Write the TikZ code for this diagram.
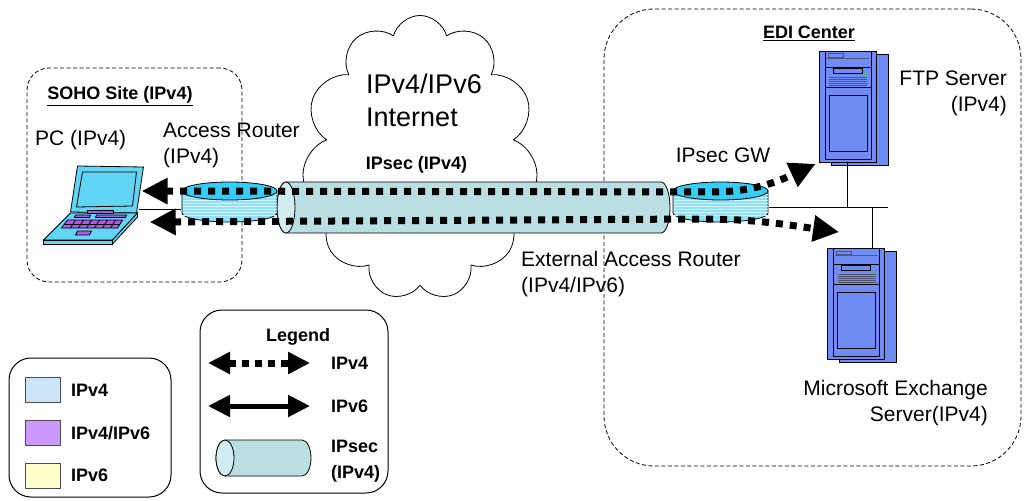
\documentclass[tikz,border=0pt]{standalone}
\usepackage{fontspec}
\setmainfont{Liberation Sans}
\usepackage{tikz}
\usetikzlibrary{arrows.meta,positioning,calc,shapes.symbols}
\definecolor{ink}{HTML}{000000}
\definecolor{routertop}{HTML}{33CEF8}
\definecolor{routerbody}{HTML}{8FE2FC}
\definecolor{tunnelbody}{HTML}{BADFE3}
\definecolor{tunnelend}{HTML}{D2EBEE}
\definecolor{srvblue}{HTML}{6F8CF4}
\definecolor{lapcyan}{HTML}{62D4F4}
\definecolor{keypurple}{HTML}{B257EA}
\definecolor{ledgreen}{HTML}{22DD22}
\definecolor{grille}{HTML}{555577}
\definecolor{swfour}{HTML}{CCE4F8}
\definecolor{swdual}{HTML}{CC99FF}
\definecolor{swsix}{HTML}{FFFFCC}
\tikzset{
  x=1pt,y=1pt,
  lab/.style={font=\fontsize{21}{26}\selectfont,text=ink,inner sep=0pt},
  biglab/.style={font=\fontsize{27}{33}\selectfont,text=ink,inner sep=0pt},
  boldlab/.style={font=\fontsize{18}{26}\selectfont\bfseries,text=ink,inner sep=0pt},
  site/.style={draw=ink,line width=0.8pt,dash pattern=on 4pt off 2.5pt,inner sep=0pt},
  keybox/.style={draw=ink,line width=1pt,rounded corners=22pt,inner sep=0pt},
  swatch/.style={draw=ink!70,line width=0.8pt,minimum width=35pt,minimum height=25pt,inner sep=0pt},
  router/.style={inner sep=0pt,minimum width=97pt,minimum height=42pt,
    path picture={
      \draw[line width=0.8pt,fill=routerbody]
        let \p1=(path picture bounding box.south west),\p2=(path picture bounding box.north east) in
        (\x1+1pt,\y2-10pt) -- (\x1+1pt,\y1+10pt)
        arc[start angle=180,end angle=360,x radius={(\x2-\x1)/2-1pt},y radius=9pt]
        -- (\x2-1pt,\y2-10pt) -- cycle;
      \draw[white!70!routerbody,line width=0.4pt]
        let \p1=(path picture bounding box.south west),\p2=(path picture bounding box.north east) in
        \foreach \s in {3,6,...,24} {(\x1+1.5pt,\y2-10pt-\s) -- (\x2-1.5pt,\y2-10pt-\s)};
      \draw[line width=0.8pt,fill=routertop]
        let \p1=(path picture bounding box.south west),\p2=(path picture bounding box.north east) in
        ({(\x1+\x2)/2},\y2-10pt) ellipse[x radius={(\x2-\x1)/2-1pt},y radius=9pt];}},
  tunnel/.style={inner sep=0pt,
    path picture={
      \draw[line width=0.8pt,fill=tunnelbody]
        let \p1=(path picture bounding box.south west),\p2=(path picture bounding box.north east),
            \n1={(\y2-\y1)/2-1pt} in
        (\x1+10pt,\y1+1pt) -- (\x2-10pt,\y1+1pt)
        arc[start angle=-90,end angle=90,x radius=9pt,y radius=\n1]
        -- (\x1+10pt,\y2-1pt)
        arc[start angle=90,end angle=270,x radius=9pt,y radius=\n1] -- cycle;
      \draw[line width=0.8pt,fill=tunnelend]
        let \p1=(path picture bounding box.south west),\p2=(path picture bounding box.north east),
            \n1={(\y2-\y1)/2-1pt} in
        (\x1+10pt,{(\y1+\y2)/2}) ellipse[x radius=9pt,y radius=\n1];}},
  wire/.style={draw=ink,line width=0.9pt},
  v4flow/.style={draw=ink,line width=7pt,dash pattern=on 7pt off 7pt,
    {Triangle[length=26pt,width=25pt]}-{Triangle[length=26pt,width=25pt]}},
  keyfour/.style={draw=ink,line width=7pt,dash pattern=on 7pt off 6pt,
    {Triangle[length=22pt,width=21pt]}-{Triangle[length=22pt,width=21pt]}},
  keysix/.style={draw=ink,line width=5pt,
    {Triangle[length=22pt,width=21pt]}-{Triangle[length=22pt,width=21pt]}},
  server/.style={draw=ink,line width=0.8pt,fill=srvblue,minimum width=57pt,minimum height=111pt,inner sep=0pt,
    preaction={draw=ink,fill=srvblue,transform canvas={shift={(12pt,-3pt)}}},
    path picture={
      \begin{scope}[shift={(path picture bounding box.center)},line width=0.7pt]
        \draw (-22.5,55.5) -- (-22.5,-52.5) -- (23.5,-52.5) -- (23.5,55.5);
        \draw[grille] (-19.5,53) rectangle (-4.5,49.5);
        \draw[grille] (-21.5,48.5) -- (21.5,48.5);
        \draw (-22.5,39.5) -- (23.5,39.5);
        \draw (-14.5,38.5) rectangle (14.5,33.5);
        \fill[ledgreen] (16.5,33.5) rectangle (19,31.5);
        \foreach \g in {29.5,27.5,...,21.5} \draw[grille,line width=0.5pt] (-18.5,\g) -- (19.5,\g);
        \draw (-22.5,19.5) -- (23.5,19.5);
        \draw (-18.5,11.5) rectangle (19.5,-44.5);
      \end{scope}}},
  laptop/.style={minimum width=102pt,minimum height=82pt,inner sep=0pt,
    path picture={
      \begin{scope}[shift={(path picture bounding box.center)},line width=0.8pt]
        \filldraw[fill=lapcyan] (-16,39) -- (50,38) -- (43,-8) -- (-23,-7) -- cycle;
        \filldraw[fill=lapcyan] (-11,33) -- (43,33) -- (39,-1) -- (-17,-2) -- cycle;
        \filldraw[fill=lapcyan] (-23,-8) -- (44,-8) -- (19,-35) -- (-50,-35) -- cycle;
        \filldraw[fill=lapcyan] (-50,-35) -- (19,-35) -- (19,-39) -- (-50,-39) -- cycle;
        \filldraw[fill=lapcyan] (19,-35) -- (44,-8) -- (44,-12) -- (19,-39) -- cycle;
        \filldraw[fill=keypurple] (-6,-5.5) -- (20,-5.5) -- (20,-8) -- (-6,-8) -- cycle;
        \filldraw[fill=keypurple] (-18,-10) -- (-3,-10) -- (-4,-12.5) -- (-19,-12.5) -- cycle;
        \filldraw[fill=keypurple] (3,-10) -- (33,-10) -- (32,-12.5) -- (2,-12.5) -- cycle;
        \filldraw[fill=keypurple] (-26,-15) -- (29,-15) -- (24,-23) -- (-32,-23) -- cycle;
        \draw (-29,-19) -- (26.5,-19);
        \foreach \k in {-18,-10,...,22} \draw (\k,-15) -- (\k-5,-23);
        \filldraw[fill=keypurple] (-16,-26) -- (-2,-26) -- (-4,-30) -- (-18,-30) -- cycle;
      \end{scope}}}
}
\begin{document}
\begin{tikzpicture}
  \useasboundingbox (0,0) rectangle (1024,-500);

  \node[site,rounded corners=22pt,minimum width=215pt,minimum height=214pt] (soho) at (134.5,-175) {};
  \node[site,rounded corners=50pt,minimum width=417pt,minimum height=457pt] (edi) at (812.5,-237.5) {};
  \node[boldlab] (sohotitle) at (120,-96) {\underline{SOHO Site (IPv4)}};
  \node[boldlab] (edititle) at (809,-33) {\underline{EDI Center}};

  \node[cloud,cloud puffs=11,cloud ignores aspect,draw=ink,line width=0.8pt,fill=white,
        minimum width=236pt,minimum height=285pt,inner sep=0pt] (net) at (420,-158) {};
  \node[biglab,align=left,anchor=west] (netlabel) at (366,-100) {IPv4/IPv6\\Internet};

  \node[tunnel,minimum width=395pt,minimum height=53pt] (tun) at (473.5,-207.5) {};
  \node[boldlab] (tunlabel) at (416.5,-165) {IPsec (IPv4)};

  \node[laptop] (pc) at (93.5,-205) {};
  \node[router] (ar) at (229.5,-202) {};
  \node[router] (gw) at (720.5,-202) {};
  \node[server] (ftp) at (847.5,-106.5) {};
  \node[server] (exch) at (856,-304) {};
  \coordinate (busend) at (888,-207);

  \draw[wire] ([yshift=-7pt]ar.west) -- ([xshift=-6pt,yshift=-4pt]pc.east);
  \draw[wire] ([yshift=-5pt]gw.east) -- (busend);
  \draw[wire] (ftp.south) -- (ftp.south |- busend);
  \draw[wire] ([xshift=16pt]exch.north) -- ([xshift=16pt]exch.north |- busend);

  \draw[v4flow] ([xshift=-3pt,yshift=14pt]pc.east) -- ([xshift=-10pt,yshift=10pt]gw.center)
    to[out=0,in=-155] ([xshift=-3pt,yshift=-1.5pt]ftp.south west);
  \draw[v4flow] ([xshift=5pt,yshift=-17pt]pc.east) -- ([xshift=-20pt,yshift=-17pt]gw.center)
    to[out=0,in=172] ([xshift=12pt,yshift=16pt]exch.north west);

  \node[lab,anchor=west] (pclabel) at (35,-140) {PC (IPv4)};
  \node[lab,align=left,anchor=west] (arlabel) at (163,-145.5) {Access Router\\(IPv4)};
  \node[lab] (gwlabel) at (723,-155) {IPsec GW};
  \node[lab,align=left,anchor=west] (extlabel) at (521,-274.5) {External Access Router\\(IPv4/IPv6)};
  \node[lab,align=right,anchor=east] (ftplabel) at (1007,-93.5) {FTP Server\\(IPv4)};
  \node[lab,align=right,anchor=east] (exchlabel) at (988,-403) {Microsoft Exchange\\Server(IPv4)};

  \node[keybox,minimum width=188pt,minimum height=183pt] (legend) at (294,-401.5) {};
  \node[boldlab] (legendtitle) at (298,-337) {Legend};
  \node[boldlab,anchor=west] (k4) at (331,-363) {IPv4};
  \node[boldlab,anchor=west] (k6) at (331,-406) {IPv6};
  \node[boldlab,align=left,anchor=west] (ksec) at (331,-461) {IPsec\\(IPv4)};
  \coordinate (k4a) at (208,-363);
  \coordinate (k4b) at (310,-363);
  \coordinate (k6a) at (208,-406);
  \coordinate (k6b) at (310,-406);
  \draw[keyfour] (k4a) -- (k4b);
  \draw[keysix] (k6a) -- (k6b);
  \node[tunnel,minimum width=97pt,minimum height=38pt] (ktun) at (263.5,-458) {};

  \node[keybox,minimum width=162pt,minimum height=139pt] (colorkey) at (90,-427.5) {};
  \node[swatch,fill=swfour] (sw4) at (42.5,-389.5) {};
  \node[swatch,fill=swdual,below=18pt of sw4] (sw46) {};
  \node[swatch,fill=swsix,below=17pt of sw46] (sw6) {};
  \node[boldlab,anchor=west] at (71,-390) {IPv4};
  \node[boldlab,anchor=west] at (71,-433) {IPv4/IPv6};
  \node[boldlab,anchor=west] at (71,-475) {IPv6};
\end{tikzpicture}
\end{document}
